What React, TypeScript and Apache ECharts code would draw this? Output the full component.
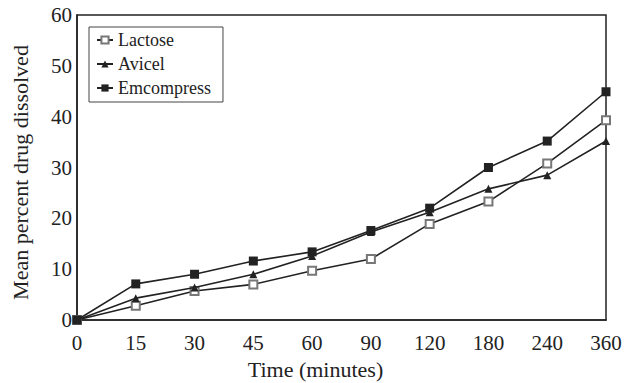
import React, { useEffect, useRef } from "react";
import * as echarts from "echarts";

const timeCategories = ["0", "15", "30", "45", "60", "90", "120", "180", "240", "360"];
const lactose = [0, 2.8, 5.7, 7.0, 9.7, 12.0, 18.9, 23.3, 30.8, 39.3];
const avicel = [0, 4.3, 6.4, 9.0, 12.6, 17.3, 21.2, 25.8, 28.5, 35.2];
const emcompress = [0, 7.1, 9.0, 11.6, 13.4, 17.6, 22.0, 30.0, 35.2, 44.9];

const FONT = "Liberation Serif";
const INK = "#222";

export default function App() {
  const ref = useRef<HTMLDivElement>(null);
  useEffect(() => {
    const chart = echarts.init(ref.current!, undefined, { renderer: "svg" });
    const lineStyle = { color: INK, width: 1.6 };
    chart.setOption({
      animation: false,
      backgroundColor: "#fff",
      textStyle: { fontFamily: FONT, color: INK },
      grid: {
        left: 77,
        right: 24,
        top: 15,
        bottom: 63,
        outerBoundsMode: "none",
        containLabel: false,
        show: true,
        borderColor: INK,
        borderWidth: 1.5,
        backgroundColor: "transparent",
      },
      legend: {
        left: 89,
        top: 27,
        orient: "vertical",
        backgroundColor: "#fff",
        borderColor: "#444",
        borderWidth: 1,
        padding: [4, 12, 5, 7],
        itemGap: 6,
        itemWidth: 16,
        itemHeight: 9,
        textStyle: { fontFamily: FONT, fontSize: 18, color: INK },
        data: ["Lactose", "Avicel", "Emcompress"],
      },
      xAxis: {
        type: "category",
        data: timeCategories,
        boundaryGap: false,
        name: "Time (minutes)",
        nameLocation: "middle",
        nameGap: 38,
        nameTextStyle: { fontFamily: FONT, fontSize: 22, color: INK, padding: [0, 52, 0, 0] },
        axisLine: { lineStyle: { color: INK, width: 1.5 } },
        axisTick: { show: false },
        axisLabel: { fontFamily: FONT, fontSize: 21, color: INK, margin: 12 },
        splitLine: { show: false },
      },
      yAxis: {
        type: "value",
        min: 0,
        max: 60,
        interval: 10,
        name: "Mean percent drug dissolved",
        nameLocation: "middle",
        nameGap: 46,
        nameTextStyle: { fontFamily: FONT, fontSize: 22, color: INK, padding: [0, 10, 0, 0] },
        axisLine: { show: true, lineStyle: { color: INK, width: 1.5 } },
        axisTick: { show: false },
        axisLabel: { fontFamily: FONT, fontSize: 21, color: INK, margin: 5 },
        splitLine: { show: false },
      },
      series: [
        {
          name: "Lactose",
          type: "line",
          data: lactose,
          symbol: "emptyRect",
          symbolSize: 8,
          lineStyle,
          itemStyle: { color: "#777", borderWidth: 1 },
          z: 2,
        },
        {
          name: "Avicel",
          type: "line",
          data: avicel,
          symbol: "triangle",
          symbolSize: 8,
          lineStyle,
          itemStyle: { color: INK },
          z: 3,
        },
        {
          name: "Emcompress",
          type: "line",
          data: emcompress,
          symbol: "rect",
          symbolSize: 9,
          lineStyle,
          itemStyle: { color: INK },
          z: 4,
        },
      ],
    });
    return () => chart.dispose();
  }, []);
  return <div ref={ref} style={{ width: 630, height: 383, position: "absolute", left: 0, top: 0 }} />;
}
